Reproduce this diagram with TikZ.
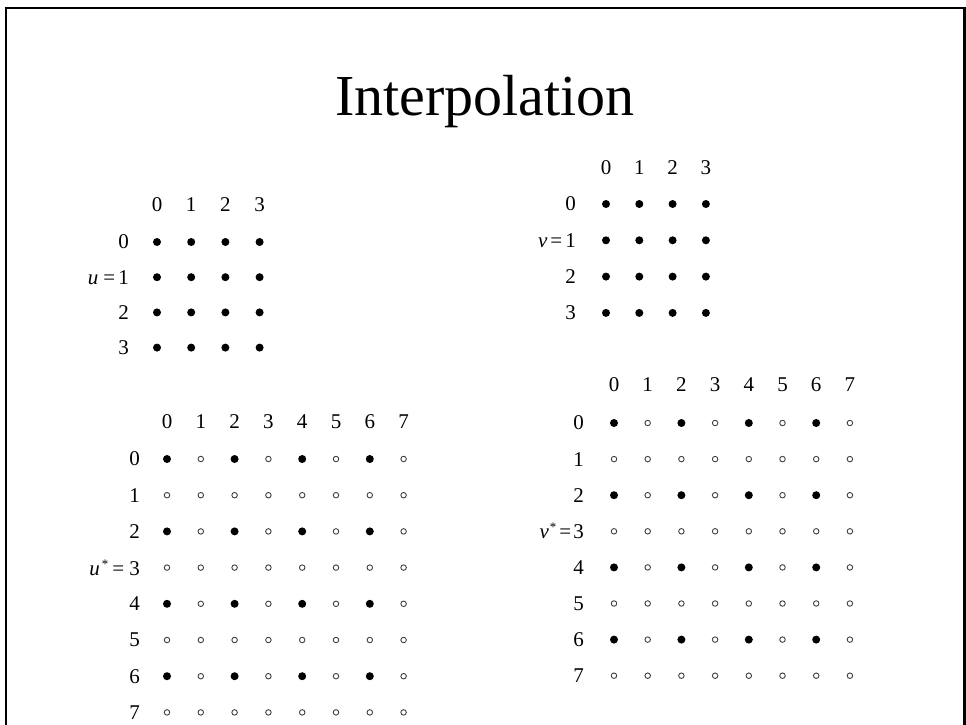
\documentclass[tikz,border=0pt]{standalone}
\usepackage{fontspec}
\setmainfont{Liberation Serif}
\newcommand{\st}{\raisebox{7pt}{\fontsize{13}{14}\selectfont *}}
\begin{document}
\begin{tikzpicture}[x=1pt,y=-1pt,
  lbl/.style={inner sep=0pt,font=\fontsize{21}{23}\selectfont},
  rowlbl/.style={lbl,anchor=east},
  fdot/.style={circle,fill=black,inner sep=0pt,minimum size=8pt},
  odot/.style={circle,draw=black!75,line width=0.9pt,fill=white,inner sep=0pt,minimum size=5.5pt},
  frame/.style={line width=2.2pt}]
\useasboundingbox (0,0) rectangle (966,725);
\coordinate (fbl) at (6,726);
\coordinate (ftl) at (6,8);
\coordinate (ftr) at (964.5,8);
\coordinate (fbr) at (964.5,726);
\draw[frame] (fbl) -- (ftl) -- (ftr) -- (fbr);
\node[inner sep=0pt,anchor=base,font=\fontsize{58}{60}\selectfont] (title) at (485,115) {Interpolation};
% Grid A (top-left)
\foreach \c in {0,...,3}{
  \node[lbl] (ah\c) at ({157+34.2*\c},205) {\c};
  \foreach \r in {0,...,3}{
    \node[fdot] (a-\r-\c) at ({157+34.2*\c},{242+35.2*\r}) {};
  }
}
\foreach \r/\t in {0/0,1/{\itshape u}\hspace{5pt}=\hspace{3pt}1,2/2,3/3}{
  \node[rowlbl] (ar\r) at (129,{242+35.2*\r}) {\t};
}
% Grid B (top-right)
\foreach \c in {0,...,3}{
  \node[lbl] (bh\c) at ({606+33.3*\c},168) {\c};
  \foreach \r in {0,...,3}{
    \node[fdot] (b-\r-\c) at ({606+33.3*\c},{204+36.3*\r}) {};
  }
}
\foreach \r/\t in {0/0,1/{\itshape v}\hspace{3pt}=\hspace{3pt}1,2/2,3/3}{
  \node[rowlbl] (br\r) at (576,{204+36.3*\r}) {\t};
}
% Grid C (bottom-left)
\foreach \c in {0,...,7}{
  \node[lbl] (ch\c) at ({167+33.8*\c},422) {\c};
  \foreach \r in {0,...,7}{
    \pgfmathtruncatemacro\ev{(mod(\r,2)==0)&&(mod(\c,2)==0)}
    \ifnum\ev=1
      \node[fdot] (c-\r-\c) at ({167+33.8*\c},{459+36.2*\r}) {};
    \else
      \node[odot] (c-\r-\c) at ({167+33.8*\c},{459+36.2*\r}) {};
    \fi
  }
}
\foreach \r/\t in {0/0,1/1,2/2,3/{\itshape u}\hspace{2pt}\st\hspace{4pt}=\hspace{5pt}3,4/4,5/5,6/6,7/7}{
  \node[rowlbl] (cr\r) at (140,{459+36.2*\r}) {\t};
}
% Grid D (bottom-right)
\foreach \c in {0,...,7}{
  \node[lbl] (dh\c) at ({614+33.7*\c},385) {\c};
  \foreach \r in {0,...,7}{
    \pgfmathtruncatemacro\ev{(mod(\r,2)==0)&&(mod(\c,2)==0)}
    \ifnum\ev=1
      \node[fdot] (d-\r-\c) at ({614+33.7*\c},{423+36.1*\r}) {};
    \else
      \node[odot] (d-\r-\c) at ({614+33.7*\c},{423+36.1*\r}) {};
    \fi
  }
}
\foreach \r/\t in {0/0,1/1,2/2,3/{\itshape v}\hspace{1pt}\st\hspace{3pt}=\hspace{2pt}3,4/4,5/5,6/6,7/7}{
  \node[rowlbl] (dr\r) at (584,{423+36.1*\r}) {\t};
}
\end{tikzpicture}
\end{document}
